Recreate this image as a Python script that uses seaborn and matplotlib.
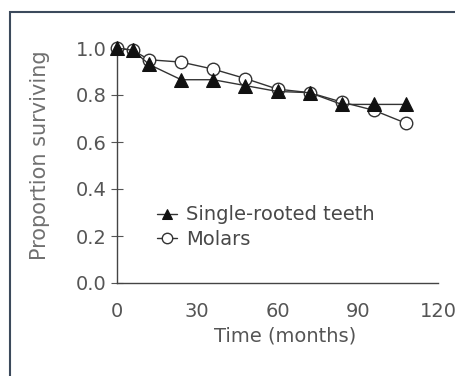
import matplotlib
matplotlib.use("Agg")
import matplotlib.pyplot as plt
import matplotlib.patches as mpatches
import seaborn as sns
import pandas as pd

months = [0, 6, 12, 24, 36, 48, 60, 72, 84, 96, 108]
single_rooted = [1.0, 0.99, 0.93, 0.865, 0.865, 0.84, 0.815, 0.81, 0.76, 0.76, 0.76]
molars = [1.0, 0.99, 0.95, 0.94, 0.91, 0.87, 0.825, 0.81, 0.77, 0.735, 0.68]
x_ticks = [0, 30, 60, 90, 120]
y_ticks = [0.0, 0.2, 0.4, 0.6, 0.8, 1.0]

sns.set_theme(style="white")
plt.rcParams['font.family'] = ['DejaVu Sans']

fig = plt.figure(figsize=(4.55, 3.76), dpi=100)
ax = fig.add_axes([117 / 455, 1 - 283 / 376, 321 / 455, 235 / 376])

df_m = pd.DataFrame({"t": months, "p": molars})
df_s = pd.DataFrame({"t": months, "p": single_rooted})

line_c = "#333333"
sns.lineplot(data=df_m, x="t", y="p", ax=ax, color=line_c, lw=1.0,
             marker="o", markersize=9, markerfacecolor="white",
             markeredgecolor="#333333", markeredgewidth=1.0,
             label="Molars", clip_on=False, zorder=3)
sns.lineplot(data=df_s, x="t", y="p", ax=ax, color=line_c, lw=1.0,
             marker="^", markersize=10.5, markerfacecolor="#111111",
             markeredgecolor="#111111",
             label="Single-rooted teeth", clip_on=False, zorder=4)

ax.set_xlim(0, 120)
ax.set_ylim(0, 1.0)
ax.set_xticks(x_ticks)
ax.set_yticks(y_ticks)
ax.set_xticklabels([str(v) for v in x_ticks])
ax.set_yticklabels([f"{v:.1f}" for v in y_ticks])

for s in ["top", "right"]:
    ax.spines[s].set_visible(False)
for s in ["left", "bottom"]:
    ax.spines[s].set_color("#444444")
    ax.spines[s].set_linewidth(1.0)

tc = "#555555"
ax.tick_params(axis="y", direction="inout", length=9, width=0.8, color="#555555",
               labelsize=14, labelcolor=tc, pad=3, left=True)
ax.tick_params(axis="x", length=0, labelsize=14, labelcolor=tc, pad=14, bottom=False)

ax.set_xlabel("Time (months)", fontsize=14, color=tc)
ax.set_ylabel("Proportion surviving", fontsize=15, color="#707070")
ax.xaxis.set_label_coords((285 - 117) / 321, -(336 - 283) / 235)
ax.xaxis.label.set_va("center")
ax.yaxis.set_label_coords((40 - 117) / 321, (283 - 155) / 235)
ax.yaxis.label.set_va("center")

handles, labels = ax.get_legend_handles_labels()
order = [labels.index("Single-rooted teeth"), labels.index("Molars")]
leg = ax.legend([handles[i] for i in order], [labels[i] for i in order],
                loc="upper left", bbox_to_anchor=((157 - 117) / 321, 0.33),
                frameon=False, fontsize=14, handlelength=1.05,
                handletextpad=0.45, labelspacing=0.3, borderaxespad=0,
                borderpad=0, labelcolor="#484848")
for h in leg.legend_handles:
    h.set_markersize(7.5)

frame = mpatches.Rectangle((10 / 455, -0.1), 1.2, 0.1 + 1 - 12 / 376,
                           transform=fig.transFigure, fill=False,
                           edgecolor="#3c4a5c", linewidth=1.5, clip_on=False)
fig.patches.append(frame)

fig.savefig("out.png", dpi=100)
